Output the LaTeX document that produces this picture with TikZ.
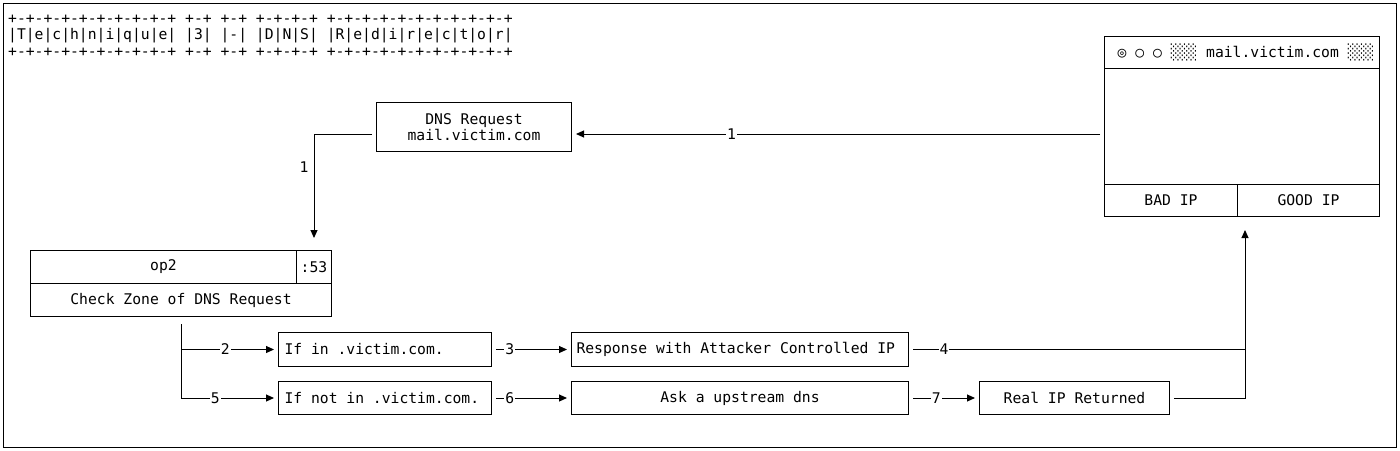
\documentclass[tikz,border=0pt]{standalone}
\usepackage{fontspec}
\setmonofont{DejaVu Sans Mono}
\usetikzlibrary{arrows.meta}
\begin{document}
\begin{tikzpicture}[x=1pt,y=-1pt,
  every node/.style={font=\ttfamily\fontsize{14.7}{16.5}\selectfont},
  box/.style={draw, line width=1pt, inner sep=0pt, anchor=north west},
  line/.style={line width=1pt, shorten <=4pt},
  conn/.style={line, -{Triangle[length=8pt,width=7pt]}, shorten >=4pt},
  lbl/.style={fill=white, inner sep=1pt}]
\useasboundingbox (0,0) rectangle (1400,450);
\draw[line width=1pt] (3,3) rectangle (1396,447);
% title
\node[anchor=base west, inner sep=0pt] (t1) at (8,23) {+-+-+-+-+-+-+-+-+-+ +-+ +-+ +-+-+-+ +-+-+-+-+-+-+-+-+-+-+};
\node[anchor=base west, inner sep=0pt] (t2) at (8,39.5) {|T|e|c|h|n|i|q|u|e| |3| |-| |D|N|S| |R|e|d|i|r|e|c|t|o|r|};
\node[anchor=base west, inner sep=0pt] (t3) at (8,56) {+-+-+-+-+-+-+-+-+-+ +-+ +-+ +-+-+-+ +-+-+-+-+-+-+-+-+-+-+};
% DNS request
\node[box, minimum width=195pt, minimum height=49pt, align=center] (dns) at (376,102) {DNS Request\\mail.victim.com};
% browser
\node[box, minimum width=275pt, minimum height=32pt] (bar) at (1104,36) {\hspace*{8pt}◎ ○ ○ ░░░ mail.victim.com ░░░};
\node[box, minimum width=275pt, minimum height=116pt] (body) at (1104,68) {};
\node[box, minimum width=133pt, minimum height=32pt] (bad) at (1104,184) {BAD IP};
\node[box, minimum width=142pt, minimum height=32pt] (good) at (1237,184) {GOOD IP};
% op2
\node[box, minimum width=266pt, minimum height=33pt] (op) at (30,250) {op2};
\node[box, minimum width=35pt, minimum height=33pt] (port) at (296,250) {:53};
\node[box, minimum width=301pt, minimum height=33pt] (check) at (30,283) {Check Zone of DNS Request};
% branches
\node[box, minimum height=34pt] (ifin) at (278,332) {\makebox[213pt][l]{\hspace*{6pt}If in .victim.com.}};
\node[box, minimum height=33pt] (ifnot) at (278,381) {\makebox[213pt][l]{\hspace*{6pt}If not in .victim.com.}};
\node[box, minimum height=34pt] (resp) at (571,332) {\makebox[337pt][l]{\hspace*{5pt}Response with Attacker Controlled IP}};
\node[box, minimum width=337pt, minimum height=33pt] (ask) at (571,381) {Ask a upstream dns};
\node[box, minimum width=190pt, minimum height=33pt] (real) at (979,381) {Real IP Returned};
\coordinate (bt) at (1245,216);
% connectors
\draw[conn] ([yshift=-7.5pt]body.west) -- ([yshift=-7.5pt]body.west -| dns.east) node[lbl,pos=0.7]{1};
\draw[conn, shorten >=12pt] ([yshift=-7.5pt]dns.west) -| (port.north) node[pos=0.642, anchor=east, inner sep=0pt, xshift=-5pt]{1};
\draw[conn, shorten <=7pt] (check.south) |- (ifin.west) node[lbl,pos=0.728]{2};
\draw[conn, shorten <=7pt] (check.south) |- (ifnot.west) node[lbl,pos=0.677]{5};
\draw[conn] (ifin.east) -- (resp.west) node[lbl,pos=0.225]{3};
\draw[conn] (ifnot.east) -- (ask.west) node[lbl,pos=0.225]{6};
\draw[conn] (ask.east) -- (real.west) node[lbl,pos=0.39]{7};
\draw[conn, shorten >=14pt] (resp.east) -| (bt) node[lbl,pos=0.052]{4};
\draw[line] (real.east) -| (bt |- resp.east);
\end{tikzpicture}
\end{document}
